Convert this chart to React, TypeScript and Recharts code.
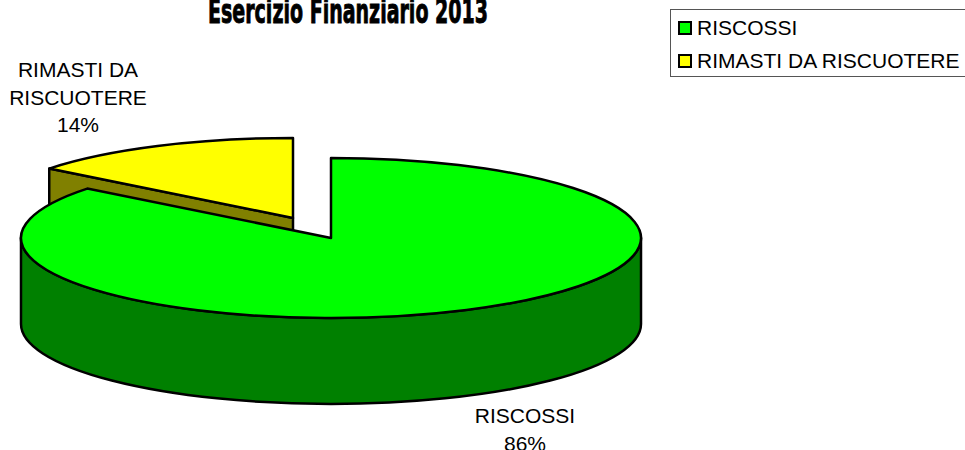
import React from 'react';
import { PieChart, Pie, Cell, Legend } from 'recharts';

// legend order
const sliceNames = ['RISCOSSI', 'RIMASTI DA RISCUOTERE'];
const sliceValues = [85.6, 14.4];
const topColors = ['#00FF00', '#FFFF00'];
const wallColors = ['#008000', '#808000'];
const titleText = 'Esercizio Finanziario 2013';

// yellow goes first so that the big slice paints over it
const drawOrder = [1, 0];
const pieData = drawOrder.map((i) => ({ name: sliceNames[i], value: sliceValues[i] }));
const totalValue = sliceValues.reduce((a, b) => a + b, 0);
const pieStart = 90 + (sliceValues[1] / totalValue) * 360;

const FONT = '"Liberation Sans", Arial, sans-serif';
const TILT = 80 / 310;
const DEPTH = 86;
const explode: Record<string, [number, number]> = {
  'RIMASTI DA RISCUOTERE': [-38, -20],
};
const labelPos: Record<string, { x: number; y: number; lines: string[] }> = {
  RISCOSSI: { x: 525, y: 423, lines: ['RISCOSSI'] },
  'RIMASTI DA RISCUOTERE': { x: 78, y: 77, lines: ['RIMASTI DA', 'RISCUOTERE'] },
};

const PieSlice3D = (props: any) => {
  const { outerRadius, startAngle, endAngle, name, payload } = props;
  const sliceName = name ?? payload?.name;
  const [dx, dy] = explode[sliceName] ?? [0, 0];
  const cx = props.cx + dx;
  const cy = props.cy + dy;
  const rx = outerRadius;
  const ry = outerRadius * TILT;
  const rad = (a: number) => (a * Math.PI) / 180;
  const px = (a: number) => cx + rx * Math.cos(rad(a));
  const py = (a: number) => cy - ry * Math.sin(rad(a));
  const large = Math.abs(startAngle - endAngle) > 180 ? 1 : 0;
  const wall = wallColors[sliceNames.indexOf(sliceName)];

  const top = `M${cx},${cy} L${px(startAngle)},${py(startAngle)} A${rx},${ry} 0 ${large} 1 ${px(endAngle)},${py(endAngle)} Z`;

  // outer wall, only the part on the front half of the ellipse
  const wallFrom = Math.min(startAngle, 0);
  const wallTo = Math.max(endAngle, -180);
  const outerWall =
    wallFrom > wallTo
      ? `M${px(wallFrom)},${py(wallFrom)} A${rx},${ry} 0 0 1 ${px(wallTo)},${py(wallTo)} L${px(wallTo)},${py(wallTo) + DEPTH} A${rx},${ry} 0 0 0 ${px(wallFrom)},${py(wallFrom) + DEPTH} Z`
      : null;

  const cutFace = (a: number) =>
    `M${cx},${cy} L${px(a)},${py(a)} L${px(a)},${py(a) + DEPTH} L${cx},${cy + DEPTH} Z`;
  const edge = Math.cos(rad(startAngle)) < -1e-6 ? startAngle : Math.cos(rad(endAngle)) > 1e-6 ? endAngle : null;

  return (
    <g stroke="#000" strokeWidth={2.5} strokeLinejoin="round">
      {edge !== null && <path d={cutFace(edge)} fill={wall} />}
      {outerWall && <path d={outerWall} fill={wall} />}
      <path d={top} fill={props.fill} />
    </g>
  );
};

const renderLabel = (props: any) => {
  const pos = labelPos[props.name];
  const lines = [...pos.lines, `${Math.round(props.percent * 100)}%`];
  return (
    <text x={pos.x} y={pos.y} textAnchor="middle" fontFamily={FONT} fontSize={21} fill="#000" stroke="none">
      {lines.map((line) => (
        <tspan key={line} x={pos.x} dy={line === lines[0] ? 0 : 27.7}>
          {line}
        </tspan>
      ))}
    </text>
  );
};

const LegendBox = () => (
  <div
    style={{
      boxSizing: 'border-box',
      width: 320,
      height: 68,
      border: '1px solid #555',
      background: '#fff',
      fontFamily: FONT,
      fontSize: 21,
      color: '#000',
      paddingTop: 1,
    }}
  >
    {sliceNames.map((name, i) => (
      <div key={name} style={{ display: 'flex', alignItems: 'center', height: 33, marginLeft: 7 }}>
        <span
          style={{
            boxSizing: 'border-box',
            width: 14,
            height: 14,
            background: topColors[i],
            border: '2px solid #000',
            marginRight: 5,
          }}
        />
        <span style={{ whiteSpace: 'nowrap' }}>{name}</span>
      </div>
    ))}
  </div>
);

export default function App() {
  return (
    <div style={{ position: 'fixed', left: 0, top: 0, width: 965, height: 450, overflow: 'hidden', background: '#fff' }}>
      <PieChart width={965} height={450} margin={{ top: 0, right: 0, bottom: 0, left: 0 }}>
        <text
          x={208}
          y={22.5}
          textLength={280}
          lengthAdjust="spacingAndGlyphs"
          fontFamily='"DejaVu Sans", sans-serif'
          fontWeight="bold"
          fontSize={34}
          fill="#000"
          stroke="#000"
          strokeWidth={1}
        >
          {titleText}
        </text>
        <Pie
          data={pieData}
          dataKey="value"
          nameKey="name"
          cx={331}
          cy={238}
          innerRadius={0}
          outerRadius={310}
          startAngle={pieStart}
          endAngle={pieStart - 360}
          paddingAngle={0}
          shape={PieSlice3D}
          label={renderLabel}
          labelLine={false}
          isAnimationActive={false}
        >
          {pieData.map((d) => (
            <Cell key={d.name} fill={topColors[sliceNames.indexOf(d.name)]} />
          ))}
        </Pie>
        <Legend content={<LegendBox />} wrapperStyle={{ left: 670, top: 9, width: 320, height: 68, bottom: 'auto' }} />
      </PieChart>
    </div>
  );
}
